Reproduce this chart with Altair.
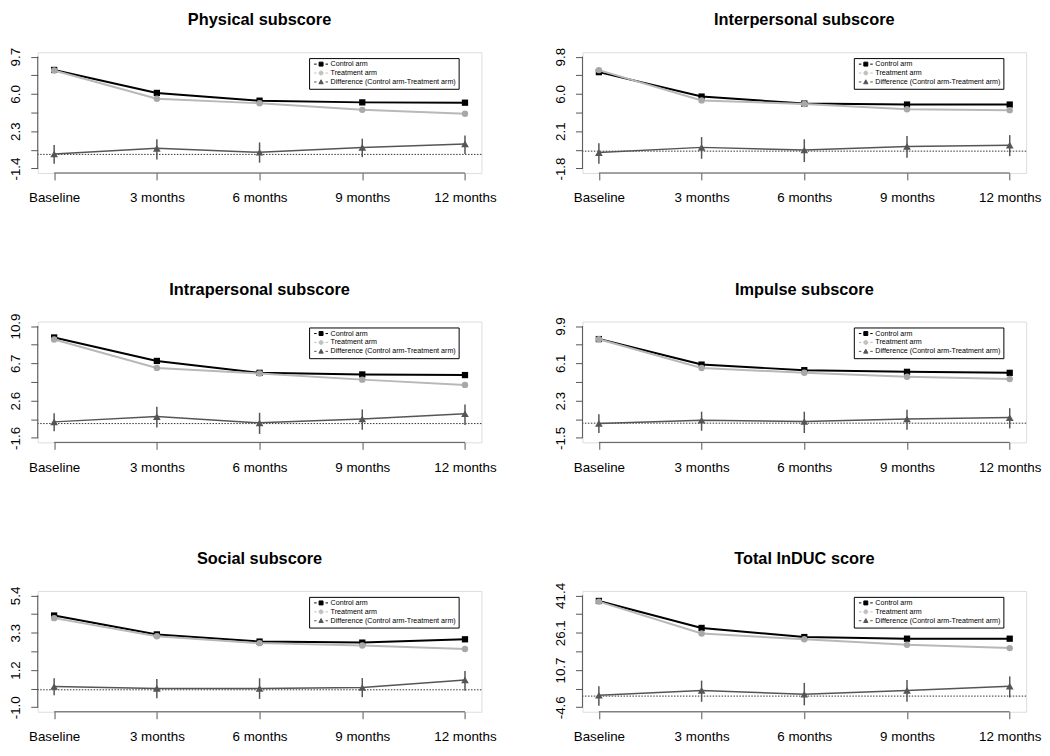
import altair as alt
import pandas as pd

FONT = "Liberation Sans"
AXIS_COLOR = "#555555"
CONTROL_COLOR = "#000000"
TREAT_COLOR = "#b8b8b8"
DIFF_COLOR = "#555555"

TIMEPOINTS = ["Baseline", "3 months", "6 months", "9 months", "12 months"]
SERIES = ["Control arm", "Treatment arm", "Difference (Control arm-Treatment arm)"]
LEGEND_COLORS = ["#000000", "#c0c0c0", "#555555"]
LEGEND_PATHS = [
    "M-7,0H-4.5M-2,-2H2V2H-2ZM4.5,0H7",
    "M-7,0H-4.5M-2,0A2,2 0 1,0 2,0A2,2 0 1,0 -2,0ZM4.5,0H7",
    "M-7,0H-4.5M-2.2,1.8L0,-2.2L2.2,1.8ZM4.5,0H7",
]

# ---- data ----
physical_control = [8.38, 6.10, 5.33, 5.16, 5.13]
physical_treatment = [8.32, 5.52, 5.07, 4.42, 4.03]
physical_diff = [0.04, 0.60, 0.21, 0.69, 1.04]
physical_lower = [-0.92, -0.50, -0.82, -0.27, 0.05]
physical_upper = [0.92, 1.50, 1.18, 1.56, 1.88]
physical_ticks = [-1.4, 9.7]
physical_labels = ["-1.4", "", "2.3", "", "6.0", "", "9.7"]

interpersonal_control = [8.19, 5.66, 4.93, 4.83, 4.83]
interpersonal_treatment = [8.40, 5.26, 4.89, 4.35, 4.25]
interpersonal_diff = [-0.15, 0.39, 0.12, 0.49, 0.62]
interpersonal_lower = [-1.30, -0.79, -1.13, -0.69, -0.52]
interpersonal_upper = [0.82, 1.46, 1.23, 1.56, 1.66]
interpersonal_ticks = [-1.8, 9.8]
interpersonal_labels = ["-1.8", "", "2.1", "", "6.0", "", "9.8"]

intrapersonal_control = [9.62, 7.00, 5.67, 5.49, 5.42]
intrapersonal_treatment = [9.40, 6.22, 5.60, 4.91, 4.32]
intrapersonal_diff = [0.19, 0.78, 0.08, 0.52, 1.10]
intrapersonal_lower = [-0.87, -0.43, -1.16, -0.69, -0.17]
intrapersonal_upper = [1.14, 1.87, 1.21, 1.58, 2.13]
intrapersonal_ticks = [-1.6, 10.9]
intrapersonal_labels = ["-1.6", "", "2.6", "", "6.7", "", "10.9"]

impulse_control = [8.57, 5.97, 5.40, 5.23, 5.13]
impulse_treatment = [8.55, 5.63, 5.13, 4.73, 4.50]
impulse_diff = [-0.03, 0.30, 0.17, 0.43, 0.57]
impulse_lower = [-1.00, -0.77, -1.00, -0.67, -0.53]
impulse_upper = [0.90, 1.17, 1.17, 1.37, 1.53]
impulse_ticks = [-1.5, 9.9]
impulse_labels = ["-1.5", "", "2.3", "", "6.1", "", "9.9"]

social_control = [4.25, 3.17, 2.76, 2.70, 2.89]
social_treatment = [4.10, 3.06, 2.67, 2.53, 2.33]
social_diff = [0.19, 0.08, 0.08, 0.13, 0.56]
social_lower = [-0.31, -0.48, -0.52, -0.42, -0.05]
social_upper = [0.66, 0.62, 0.66, 0.67, 1.08]
social_ticks = [-1.0, 5.4]
social_labels = ["-1.0", "", "1.2", "", "3.3", "", "5.4"]

total_control = [39.13, 28.03, 24.28, 23.61, 23.61]
total_treatment = [38.86, 25.75, 23.35, 21.07, 19.74]
total_diff = [0.35, 2.35, 0.75, 2.35, 4.09]
total_lower = [-3.93, -2.33, -3.80, -2.33, -0.59]
total_upper = [4.09, 6.37, 5.43, 6.63, 8.10]
total_ticks = [-4.6, 41.4]
total_labels = ["-4.6", "", "10.7", "", "26.1", "", "41.4"]

PANELS = [
    ("Physical subscore", physical_control, physical_treatment, physical_diff,
     physical_lower, physical_upper, physical_ticks, physical_labels),
    ("Interpersonal subscore", interpersonal_control, interpersonal_treatment, interpersonal_diff,
     interpersonal_lower, interpersonal_upper, interpersonal_ticks, interpersonal_labels),
    ("Intrapersonal subscore", intrapersonal_control, intrapersonal_treatment, intrapersonal_diff,
     intrapersonal_lower, intrapersonal_upper, intrapersonal_ticks, intrapersonal_labels),
    ("Impulse subscore", impulse_control, impulse_treatment, impulse_diff,
     impulse_lower, impulse_upper, impulse_ticks, impulse_labels),
    ("Social subscore", social_control, social_treatment, social_diff,
     social_lower, social_upper, social_ticks, social_labels),
    ("Total InDUC score", total_control, total_treatment, total_diff,
     total_lower, total_upper, total_ticks, total_labels),
]

W, H = 448, 122


def make_panel(title, control, treatment, diff, lower, upper, ticks, labels):
    n = len(TIMEPOINTS)
    t = list(range(n))
    df = pd.DataFrame({"t": t, "control": control, "treatment": treatment,
                       "diff": diff, "lower": lower, "upper": upper})
    lo, hi = ticks
    span = hi - lo
    step = span / 6
    tick_values = [lo + i * step for i in range(7)]
    y_expr = "[" + ",".join("'%s'" % s for s in labels) + "][round((datum.value - (%r)) / %r)]" % (lo, step)
    x_expr = "[" + ",".join("'%s'" % s for s in TIMEPOINTS) + "][round(datum.value)]"

    xscale = alt.Scale(domain=[-0.04 * (n - 1), (n - 1) * 1.04], nice=False, zero=False)
    yscale = alt.Scale(domain=[lo - 0.04 * span, hi + 0.04 * span], nice=False, zero=False)
    xaxis = alt.Axis(values=t, labelExpr=x_expr, title=None, domain=False, grid=False,
                     tickSize=7, tickColor=AXIS_COLOR, tickWidth=1, labelFontSize=13.5,
                     labelFont=FONT, labelColor="black", labelPadding=11,
                     labelFlush=False, labelOverlap=False)
    yaxis = alt.Axis(values=tick_values, labelExpr=y_expr, title=None, domain=False, grid=False,
                     tickSize=7, tickColor=AXIS_COLOR, tickWidth=1, labelFontSize=13.5,
                     labelFont=FONT, labelColor="black", labelAngle=270, labelAlign="center",
                     labelBaseline="alphabetic", labelPadding=11,
                     labelFlush=False, labelOverlap=False)

    X = alt.X("t:Q", scale=xscale, axis=xaxis)

    def Y(field):
        return alt.Y(field + ":Q", scale=yscale, axis=yaxis)

    base = alt.Chart(df)
    control_line = base.mark_line(color=CONTROL_COLOR, strokeWidth=2).encode(x=X, y=Y("control"))
    control_pts = base.mark_point(shape="square", filled=True, color=CONTROL_COLOR,
                                  size=40, opacity=1).encode(x=X, y=Y("control"))
    treat_line = base.mark_line(color=TREAT_COLOR, strokeWidth=2).encode(x=X, y=Y("treatment"))
    treat_pts = base.mark_point(shape="circle", filled=True, color="#a8a8a8",
                                size=42, opacity=1).encode(x=X, y=Y("treatment"))
    zero = alt.Chart(pd.DataFrame({"zero": [0.0]})).mark_rule(
        color="#333333", strokeDash=[1.5, 1.5], strokeWidth=1).encode(y=Y("zero"))
    err = base.mark_rule(color=DIFF_COLOR, strokeWidth=1.5).encode(x=X, y=Y("lower"), y2="upper")
    diff_line = base.mark_line(color=DIFF_COLOR, strokeWidth=1.5).encode(x=X, y=Y("diff"))
    diff_pts = base.mark_point(shape="triangle-up", filled=True, color=DIFF_COLOR,
                               size=60, opacity=1).encode(x=X, y=Y("diff"))
    yaxis_line = alt.Chart(pd.DataFrame({"lo": [lo], "hi": [hi]})).mark_rule(
        color=AXIS_COLOR, strokeWidth=1).encode(x=alt.value(0), y=Y("lo"), y2="hi")
    xaxis_line = alt.Chart(pd.DataFrame({"first": [0], "last": [n - 1]})).mark_rule(
        color=AXIS_COLOR, strokeWidth=1).encode(
        x=alt.X("first:Q", scale=xscale, axis=xaxis), x2="last", y=alt.value(H))

    title_mark = alt.Chart(pd.DataFrame({"title": [title]})).mark_text(
        font=FONT, fontSize=16.5, fontWeight="bold", color="black",
        align="center", baseline="alphabetic").encode(
        text="title:N", x=alt.value(W / 2), y=alt.value(-27))

    leg = alt.Legend(orient="none", legendX=274, legendY=6, title=None,
                     strokeColor="black", fillColor="white", padding=2.5,
                     labelFontSize=7.2, labelFont=FONT, labelColor="black", labelLimit=0,
                     symbolSize=4, symbolStrokeWidth=1, symbolOffset=6, labelOffset=6,
                     rowPadding=0)
    legend_layer = alt.Chart(pd.DataFrame({"series": SERIES})).mark_point(
        filled=True, opacity=1, strokeWidth=1).encode(
        fill=alt.Fill("series:N", scale=alt.Scale(domain=SERIES, range=LEGEND_COLORS), legend=leg),
        stroke=alt.Stroke("series:N", scale=alt.Scale(domain=SERIES, range=LEGEND_COLORS), legend=leg),
        shape=alt.Shape("series:N", scale=alt.Scale(domain=SERIES, range=LEGEND_PATHS), legend=leg),
    ).transform_filter("false")

    return alt.layer(
        control_line, control_pts, treat_line, treat_pts, zero, err, diff_line, diff_pts,
        yaxis_line, xaxis_line, title_mark, legend_layer,
    ).properties(width=W, height=H)


panels = [make_panel(*p) for p in PANELS]

chart = alt.concat(
    *panels, columns=2, spacing={"row": 150, "column": 102}, bounds="flush",
    padding={"left": 0, "top": 0, "right": 0, "bottom": 0},
).resolve_scale(
    x="independent", y="independent", fill="independent", stroke="independent", shape="independent"
).resolve_legend(
    fill="independent", stroke="independent", shape="independent"
).configure_view(stroke=None).configure(font=FONT)

chart.save("out.html", embed_options={"renderer": "svg", "actions": False})
